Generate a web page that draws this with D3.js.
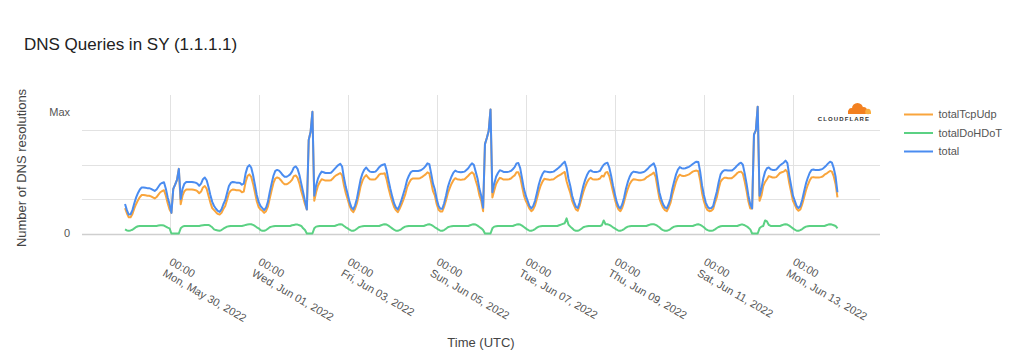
<!DOCTYPE html>
<html><head><meta charset="utf-8">
<script src="https://cdn.jsdelivr.net/npm/d3@7"></script>
<style>
body{margin:0;background:#fff;}
text{font-family:"Liberation Sans",Arial,Helvetica,sans-serif;}
</style>
</head><body>
<svg id="chart" width="1020" height="360"></svg>
<script>
// ---- DATA (hourly, starting 2022-05-29 00:00 UTC; relative units, gridlines every 1 unit) ----
const startUTC = Date.UTC(2022, 4, 29, 0, 0);
const stepHours = 1;

const totalTcpUdp = [
0.74,0.59,0.47,0.47,0.57,0.73,0.86,0.97,1.06,1.12,1.12,1.11,1.10,1.10,1.08,1.05,1.02,1.06,1.13,1.20,1.23,1.26,1.10,0.88,
0.70,0.60,1.30,1.42,1.56,1.88,0.85,1.10,1.23,1.28,1.28,1.28,1.28,1.27,1.26,1.23,1.17,1.22,1.34,1.38,1.30,1.10,0.90,0.74,
0.68,0.62,0.57,0.55,0.60,0.71,0.80,0.98,1.17,1.25,1.28,1.27,1.26,1.26,1.25,1.20,1.22,1.50,1.67,1.72,1.65,1.45,1.20,0.94,
0.77,0.70,0.66,0.60,0.65,0.78,1.02,1.25,1.47,1.60,1.63,1.61,1.55,1.48,1.43,1.43,1.46,1.50,1.56,1.67,1.69,1.62,1.46,1.23,
1.05,0.85,0.70,2.72,2.95,3.54,0.95,1.20,1.39,1.50,1.58,1.56,1.54,1.54,1.54,1.55,1.60,1.66,1.70,1.73,1.76,1.69,1.40,1.17,
1.00,0.81,0.68,0.62,0.72,0.88,1.12,1.38,1.54,1.64,1.70,1.63,1.58,1.57,1.57,1.58,1.64,1.71,1.74,1.74,1.75,1.57,1.32,1.11,
0.93,0.77,0.68,0.62,0.72,0.84,0.98,1.13,1.34,1.46,1.56,1.60,1.60,1.60,1.60,1.61,1.64,1.68,1.72,1.78,1.75,1.50,1.23,1.10,
0.85,0.69,0.64,0.64,0.78,0.96,1.17,1.32,1.45,1.55,1.61,1.58,1.57,1.56,1.57,1.58,1.63,1.68,1.74,1.78,1.73,1.54,1.37,1.11,
0.95,0.65,2.60,2.78,2.98,3.61,1.05,1.25,1.44,1.54,1.62,1.60,1.57,1.57,1.57,1.58,1.60,1.65,1.69,1.78,1.78,1.64,1.37,1.11,
0.95,0.84,0.72,0.65,0.70,0.82,1.01,1.22,1.39,1.51,1.59,1.58,1.57,1.56,1.57,1.58,1.62,1.66,1.69,1.72,1.76,1.79,1.52,1.34,
1.18,0.95,0.82,0.70,0.66,0.80,1.01,1.20,1.36,1.49,1.58,1.62,1.58,1.57,1.57,1.58,1.60,1.68,1.66,1.77,1.79,1.67,1.46,1.22,
1.00,0.81,0.70,0.65,0.75,0.92,1.13,1.30,1.44,1.53,1.58,1.57,1.56,1.55,1.55,1.56,1.58,1.63,1.66,1.70,1.73,1.77,1.65,1.33,
1.02,0.87,0.75,0.68,0.65,0.75,0.89,1.13,1.32,1.51,1.64,1.71,1.68,1.67,1.68,1.70,1.72,1.76,1.80,1.82,1.83,1.81,1.55,1.18,
0.94,0.77,0.68,0.65,0.66,0.71,0.90,1.06,1.31,1.51,1.58,1.62,1.62,1.61,1.61,1.61,1.65,1.70,1.76,1.79,1.80,1.74,1.51,1.24,
0.93,0.73,0.73,2.88,3.00,3.69,0.95,1.10,1.38,1.50,1.58,1.67,1.65,1.63,1.63,1.64,1.70,1.76,1.78,1.80,1.85,1.79,1.47,1.21,
0.95,0.84,0.72,0.66,0.70,0.85,1.05,1.25,1.41,1.54,1.63,1.64,1.63,1.63,1.63,1.64,1.66,1.71,1.74,1.78,1.82,1.80,1.66,1.43,
1.05];

const totalDoHDoT = [
0.12,0.09,0.08,0.09,0.11,0.15,0.19,0.21,0.22,0.22,0.22,0.22,0.22,0.22,0.22,0.22,0.22,0.22,0.23,0.24,0.24,0.23,0.20,0.17,
0.15,0,0,0,0,0,0.15,0.20,0.22,0.22,0.22,0.22,0.22,0.22,0.22,0.22,0.22,0.23,0.24,0.25,0.25,0.25,0.22,0.18,
0.12,0.10,0.09,0.08,0.10,0.14,0.17,0.20,0.21,0.22,0.22,0.22,0.22,0.22,0.22,0.22,0.23,0.25,0.26,0.27,0.27,0.25,0.22,0.18,
0.15,0.10,0.08,0.08,0.10,0.14,0.18,0.20,0.21,0.22,0.22,0.22,0.22,0.22,0.22,0.22,0.22,0.22,0.24,0.25,0.26,0.26,0.24,0.22,
0.15,0.10,0,0,0,0,0.15,0.20,0.21,0.22,0.22,0.22,0.22,0.22,0.22,0.22,0.22,0.22,0.24,0.26,0.27,0.26,0.22,0.18,
0.15,0.11,0.08,0.08,0.10,0.14,0.18,0.20,0.21,0.22,0.22,0.22,0.22,0.22,0.22,0.22,0.22,0.22,0.24,0.26,0.27,0.26,0.23,0.19,
0.15,0.11,0.08,0.08,0.10,0.13,0.17,0.20,0.21,0.22,0.22,0.22,0.22,0.22,0.22,0.22,0.22,0.22,0.24,0.26,0.27,0.25,0.22,0.18,
0.15,0.11,0.08,0.08,0.10,0.14,0.18,0.20,0.21,0.22,0.22,0.22,0.22,0.22,0.22,0.22,0.22,0.22,0.24,0.26,0.27,0.26,0.23,0.19,
0.15,0.10,0,0,0,0,0.15,0.20,0.21,0.22,0.22,0.22,0.22,0.22,0.22,0.22,0.22,0.22,0.24,0.26,0.27,0.26,0.23,0.19,
0.15,0.11,0.08,0.08,0.10,0.13,0.17,0.20,0.21,0.22,0.22,0.22,0.22,0.22,0.22,0.22,0.22,0.22,0.24,0.26,0.28,0.30,0.44,0.26,
0.20,0.15,0.10,0.08,0.08,0.10,0.14,0.18,0.20,0.21,0.22,0.22,0.22,0.22,0.22,0.22,0.22,0.24,0.38,0.27,0.27,0.25,0.22,0.18,
0.15,0.11,0.08,0.08,0.10,0.13,0.17,0.20,0.21,0.22,0.22,0.22,0.22,0.22,0.22,0.22,0.22,0.22,0.24,0.26,0.27,0.27,0.25,0.22,
0.18,0.13,0.10,0.08,0.08,0.10,0.13,0.17,0.20,0.21,0.22,0.22,0.22,0.22,0.22,0.22,0.22,0.22,0.22,0.24,0.26,0.27,0.25,0.22,
0.18,0.13,0.10,0.08,0.08,0.09,0.12,0.16,0.19,0.21,0.22,0.22,0.22,0.22,0.22,0.22,0.22,0.22,0.22,0.24,0.26,0.26,0.24,0.21,
0.17,0.12,0,0,0,0,0.15,0.20,0.22,0.38,0.35,0.25,0.22,0.22,0.22,0.22,0.22,0.22,0.24,0.26,0.27,0.26,0.23,0.19,
0.15,0.11,0.08,0.08,0.10,0.13,0.17,0.20,0.21,0.22,0.22,0.22,0.22,0.22,0.22,0.22,0.22,0.22,0.24,0.26,0.27,0.26,0.24,0.22,
0.15];

const total = [
0.86,0.68,0.55,0.56,0.68,0.88,1.05,1.18,1.28,1.34,1.34,1.33,1.32,1.32,1.30,1.27,1.24,1.28,1.36,1.44,1.47,1.49,1.30,1.05,
0.85,0.60,1.30,1.42,1.56,1.88,1.00,1.30,1.45,1.50,1.50,1.50,1.50,1.49,1.48,1.45,1.39,1.45,1.58,1.63,1.55,1.35,1.12,0.92,
0.80,0.72,0.66,0.63,0.70,0.85,0.97,1.18,1.38,1.47,1.50,1.49,1.48,1.48,1.47,1.42,1.45,1.75,1.93,1.99,1.92,1.70,1.42,1.12,
0.92,0.80,0.74,0.68,0.75,0.92,1.20,1.45,1.68,1.82,1.85,1.83,1.77,1.70,1.65,1.65,1.68,1.72,1.80,1.92,1.95,1.88,1.70,1.45,
1.20,0.95,0.70,2.72,2.95,3.54,1.10,1.40,1.60,1.72,1.80,1.78,1.76,1.76,1.76,1.77,1.82,1.88,1.94,1.99,2.03,1.95,1.62,1.35,
1.15,0.92,0.76,0.70,0.82,1.02,1.30,1.58,1.75,1.86,1.92,1.85,1.80,1.79,1.79,1.80,1.86,1.93,1.98,2.00,2.02,1.83,1.55,1.30,
1.08,0.88,0.76,0.70,0.82,0.97,1.15,1.33,1.55,1.68,1.78,1.82,1.82,1.82,1.82,1.83,1.86,1.90,1.96,2.04,2.02,1.75,1.45,1.28,
1.00,0.80,0.72,0.72,0.88,1.10,1.35,1.52,1.66,1.77,1.83,1.80,1.79,1.78,1.79,1.80,1.85,1.90,1.98,2.04,2.00,1.80,1.60,1.30,
1.10,0.75,2.60,2.78,2.98,3.61,1.20,1.45,1.65,1.76,1.84,1.82,1.79,1.79,1.79,1.80,1.82,1.87,1.93,2.04,2.05,1.90,1.60,1.30,
1.10,0.95,0.80,0.73,0.80,0.95,1.18,1.42,1.60,1.73,1.81,1.80,1.79,1.78,1.79,1.80,1.84,1.88,1.93,1.98,2.04,2.09,1.92,1.60,
1.38,1.10,0.92,0.78,0.74,0.90,1.15,1.38,1.56,1.70,1.80,1.84,1.80,1.79,1.79,1.80,1.82,1.92,2.00,2.04,2.06,1.92,1.68,1.40,
1.15,0.92,0.78,0.73,0.85,1.05,1.30,1.50,1.65,1.75,1.80,1.79,1.78,1.77,1.77,1.78,1.80,1.85,1.90,1.96,2.00,2.04,1.90,1.55,
1.20,1.00,0.85,0.76,0.73,0.85,1.02,1.30,1.52,1.72,1.86,1.93,1.90,1.89,1.90,1.92,1.94,1.98,2.02,2.06,2.09,2.08,1.80,1.40,
1.12,0.90,0.78,0.73,0.74,0.80,1.02,1.22,1.50,1.72,1.80,1.84,1.84,1.83,1.83,1.83,1.87,1.92,1.98,2.03,2.06,2.00,1.75,1.45,
1.10,0.85,0.73,2.88,3.00,3.69,1.10,1.30,1.60,1.80,1.90,1.92,1.87,1.85,1.85,1.86,1.92,1.98,2.02,2.06,2.12,2.05,1.70,1.40,
1.10,0.95,0.80,0.74,0.80,0.98,1.22,1.45,1.62,1.76,1.85,1.86,1.85,1.85,1.85,1.86,1.88,1.93,1.98,2.04,2.09,2.06,1.90,1.65,
1.20];

const seriesNames = ["totalTcpUdp", "totalDoHDoT", "total"];
const seriesColors = ["#f9a53c", "#5bd183", "#4a8cf0"];
const xTickDates = [
  Date.UTC(2022,4,30), Date.UTC(2022,5,1), Date.UTC(2022,5,3), Date.UTC(2022,5,5),
  Date.UTC(2022,5,7), Date.UTC(2022,5,9), Date.UTC(2022,5,11), Date.UTC(2022,5,13)
];
const xDomain = [Date.UTC(2022,4,28), Date.UTC(2022,5,15)];
const yGridValues = [0, 1, 2, 3];
const yTickValues = [0, 3.53];
const yTickLabels = ["0", "Max"];
const titleText = "DNS Queries in SY (1.1.1.1)";
const xAxisTitle = "Time (UTC)";
const yAxisTitle = "Number of DNS resolutions";

// ---- DRAW ----
const svg = d3.select("#chart");
const plot = {left: 82, right: 880, top: 96, bottom: 233.5};

const x = d3.scaleUtc().domain(xDomain).range([80.5, 882]);
const y = d3.scaleLinear().domain([0, 4]).range([233.5, 96]);

// title
svg.append("text").attr("x", 24).attr("y", 50)
  .attr("font-size", 17).attr("fill", "#222").text(titleText);

// vertical gridlines
svg.append("g").selectAll("line").data(xTickDates).join("line")
  .attr("x1", d => Math.round(x(d)) + 0.5).attr("x2", d => Math.round(x(d)) + 0.5)
  .attr("y1", 95).attr("y2", plot.bottom)
  .attr("stroke", "#e2e2e2").attr("stroke-width", 1);

// horizontal gridlines
svg.append("g").selectAll("line").data(yGridValues).join("line")
  .attr("x1", plot.left).attr("x2", plot.right)
  .attr("y1", d => Math.round(y(d)) + 0.5).attr("y2", d => Math.round(y(d)) + 0.5)
  .attr("stroke", d => d === 0 ? "#cfcfcf" : "#e2e2e2")
  .attr("stroke-width", d => d === 0 ? 1.5 : 1);

// y tick labels
svg.append("g").selectAll("text").data(yTickValues).join("text")
  .attr("x", 70).attr("y", d => y(d)).attr("dy", "0.35em")
  .attr("text-anchor", "end").attr("font-size", 11).attr("fill", "#555")
  .text((d, i) => yTickLabels[i]);

// x tick labels
const fTime = d3.utcFormat("%H:%M");
const fDate = d3.utcFormat("%a, %b %d, %Y");
const xl = svg.append("g").selectAll("text").data(xTickDates).join("text")
  .attr("transform", d => `translate(${x(d) - 1},264) rotate(30)`)
  .attr("font-size", 11).attr("fill", "#555");
xl.append("tspan").attr("x", 0).attr("dy", 0).text(d => fTime(d));
xl.append("tspan").attr("x", 0).attr("dy", 13).text(d => fDate(d));

// axis titles
svg.append("text").attr("x", 481).attr("y", 347).attr("text-anchor", "middle")
  .attr("font-size", 13).attr("fill", "#444").text(xAxisTitle);
svg.append("text").attr("transform", "translate(26,168) rotate(-90)")
  .attr("text-anchor", "middle").attr("font-size", 13).attr("fill", "#444").text(yAxisTitle);

// lines
const seriesData = [totalTcpUdp, totalDoHDoT, total];
const line = d3.line()
  .x((d, i) => x(startUTC + i * stepHours * 3600000))
  .y(d => y(d));
seriesData.forEach((arr, k) => {
  svg.append("path").datum(arr)
    .attr("fill", "none").attr("stroke", seriesColors[k])
    .attr("stroke-width", 2).attr("stroke-linejoin", "round")
    .attr("d", line);
});

// legend
const lg = svg.append("g").selectAll("g").data(seriesNames).join("g")
  .attr("transform", (d, i) => `translate(904,${114.5 + i * 18.5})`);
lg.append("line").attr("x1", 0).attr("x2", 29).attr("y1", 0).attr("y2", 0)
  .attr("stroke", (d, i) => seriesColors[i]).attr("stroke-width", 2);
lg.append("text").attr("x", 34.5).attr("y", 0).attr("dy", "0.35em")
  .attr("font-size", 11).attr("fill", "#555").text(d => d);

// Cloudflare logo
const logo = svg.append("g");
const cloud = logo.append("g");
cloud.append("circle").attr("cx", 851.5).attr("cy", 111).attr("r", 3).attr("fill", "#f38020");
cloud.append("circle").attr("cx", 857.5).attr("cy", 108.5).attr("r", 5.5).attr("fill", "#f38020");
cloud.append("circle").attr("cx", 863.5).attr("cy", 110.5).attr("r", 3.5).attr("fill", "#f38020");
cloud.append("rect").attr("x", 848).attr("y", 110.5).attr("width", 18).attr("height", 3.5).attr("fill", "#f38020");
cloud.append("circle").attr("cx", 868).attr("cy", 111.5).attr("r", 2.7).attr("fill", "#faae40");
cloud.append("rect").attr("x", 865.5).attr("y", 111.5).attr("width", 5.5).attr("height", 2.5).attr("fill", "#faae40");
logo.append("text").attr("x", 844).attr("y", 120.5).attr("text-anchor", "middle")
  .attr("font-size", 6).attr("font-weight", "bold").attr("letter-spacing", 1.1)
  .attr("fill", "#333").text("CLOUDFLARE");
</script>
</body></html>
